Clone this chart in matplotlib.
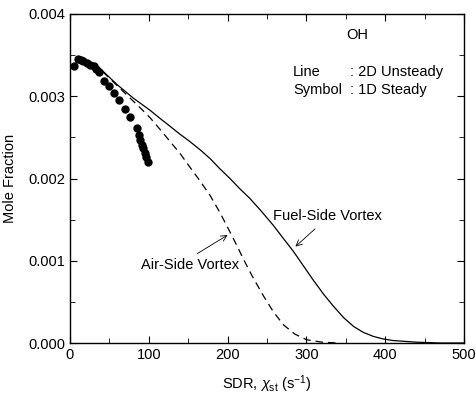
"""OH mole fraction vs scalar dissipation rate: 2D unsteady vs 1D steady."""
import numpy as np
import matplotlib
matplotlib.use('Agg')
import matplotlib.pyplot as plt
import matplotlib as mpl

# 1D steady flamelet (symbols)
steady_sdr = [5, 10.6, 13.5, 17, 21, 25, 30, 33, 37, 43, 49.5, 56, 62.6, 70, 76,
              84.6, 87, 89, 91, 93, 95, 97, 99.4]
steady_oh = [0.00337, 0.00345, 0.00344, 0.00343, 0.00341, 0.00338, 0.00337, 0.00333,
             0.00329, 0.00319, 0.00312, 0.00304, 0.00295, 0.00285, 0.00275,
             0.00261, 0.00253, 0.00247, 0.00241, 0.00237, 0.00231, 0.00226, 0.00220]

# 2D unsteady, fuel-side vortex (solid line)
fuel_sdr = [30, 38, 50, 60, 70, 80, 90, 101.5, 113, 125, 138, 152, 165, 178, 190,
            203, 215, 228, 243, 258, 270, 283, 296, 309, 322, 334, 347, 360, 372,
            385, 397, 410, 425, 440, 455, 470, 485, 500]
fuel_oh = [0.00340, 0.00334, 0.00323, 0.00314, 0.00306, 0.00298, 0.00291, 0.00283,
           0.00274, 0.00265, 0.00255, 0.00245, 0.00235, 0.00224, 0.00212, 0.00200,
           0.00188, 0.00176, 0.00160, 0.00143, 0.00128, 0.00112, 0.00094, 0.00076,
           0.00059, 0.00045, 0.00031, 0.00020, 0.00013, 0.00008, 0.00005, 0.00003,
           0.00002, 0.00001, 0.000005, 0.0, 0.0, 0.0]

# 2D unsteady, air-side vortex (dashed line)
air_sdr = [30, 38, 50, 63, 76, 89, 101.5, 114, 127, 140, 152, 165, 178, 190, 203,
           212, 220, 232, 245, 258, 271, 285, 300, 320, 340]
air_oh = [0.00340, 0.00333, 0.00322, 0.00310, 0.00298, 0.00286, 0.00274, 0.00260,
          0.00245, 0.00230, 0.00214, 0.00197, 0.00179, 0.00159, 0.00135, 0.00118,
          0.00102, 0.00080, 0.00058, 0.00038, 0.00022, 0.00011, 0.00004, 0.00001, 0.0]

mpl.rcParams.update({
    'font.family': ['Liberation Sans', 'DejaVu Sans'],
    'font.size': 10.5,
    'axes.linewidth': 1.0,
    'mathtext.fontset': 'custom',
    'mathtext.rm': 'Liberation Sans',
    'mathtext.it': 'Liberation Sans:italic',
})

fig = plt.figure(figsize=(4.76, 3.95), dpi=100)
ax = fig.add_axes([0.147, 0.1316, 0.828, 0.833])

ax.plot(fuel_sdr, fuel_oh, color='black', lw=0.9)
ax.plot(air_sdr, air_oh, color='black', lw=0.9, dashes=(6, 4))
ax.plot(steady_sdr, steady_oh, 'o', color='black', ms=5, mec='black')

ax.set_xlim(0, 500)
ax.set_ylim(0, 0.004)
ax.set_xticks(np.arange(0, 501, 100))
ax.set_xticks(np.arange(0, 501, 50), minor=True)
ax.set_yticks(np.arange(0, 0.0041, 0.001))
ax.set_yticks(np.arange(0, 0.0041, 0.0005), minor=True)
ax.yaxis.set_major_formatter(mpl.ticker.FormatStrFormatter('%.3f'))
ax.tick_params(which='both', direction='in', top=True, right=True, labelsize=10.5)
ax.tick_params(which='major', length=5)
ax.tick_params(which='minor', length=3.5)

ax.set_xlabel(r'SDR, $\chi_{\rm st}$ (s$^{-1}$)', fontsize=10.5, labelpad=8)
ax.set_ylabel('Mole Fraction', fontsize=10.5, labelpad=8)

ax.text(364, 0.00375, 'OH', ha='center', va='center', fontsize=10.5)
ax.text(283, 0.00330, 'Line', ha='left', va='center', fontsize=10.5)
ax.text(355, 0.00330, ': 2D Unsteady', ha='left', va='center', fontsize=10.5)
ax.text(283, 0.00308, 'Symbol', ha='left', va='center', fontsize=10.5)
ax.text(355, 0.00308, ': 1D Steady', ha='left', va='center', fontsize=10.5)

ax.annotate('', xy=(283.4, 0.00115), xytext=(313.5, 0.00141),
            arrowprops=dict(arrowstyle='->', color='black', lw=0.6))
ax.text(327, 0.00154, 'Fuel-Side Vortex', ha='center', va='center', fontsize=10.5)

ax.annotate('', xy=(203, 0.00133), xytext=(158.6, 0.00107),
            arrowprops=dict(arrowstyle='->', color='black', lw=0.6))
ax.text(152, 0.00095, 'Air-Side Vortex', ha='center', va='center', fontsize=10.5)

fig.savefig('out.png', dpi=100)
